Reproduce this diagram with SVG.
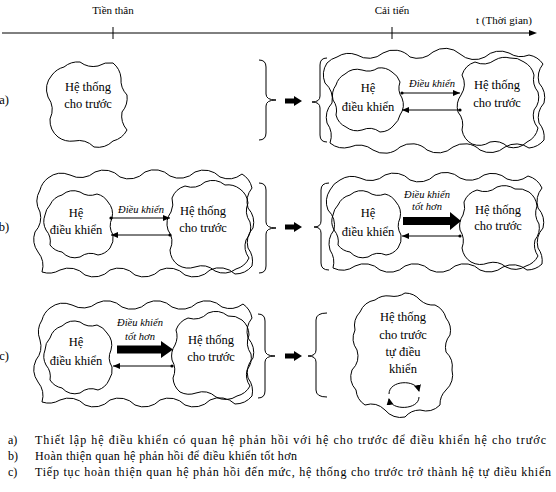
<svg xmlns="http://www.w3.org/2000/svg" width="556" height="492" viewBox="0 0 556 492">
<defs>
<style>
.blob{fill:none;stroke:#000;stroke-width:1}
.ln{fill:none;stroke:#000;stroke-width:1}
.t{font-family:"Liberation Serif","Times New Roman",serif;font-size:12.5px;fill:#000;text-anchor:middle}
.it{font-family:"Liberation Serif","Times New Roman",serif;font-size:10.5px;font-style:italic;fill:#000;text-anchor:middle}
.s{font-family:"Liberation Serif","Times New Roman",serif;font-size:11px;fill:#000;text-anchor:middle}
.lg{font-family:"Liberation Serif","Times New Roman",serif;font-size:12px;fill:#000}
.solid{fill:#000;stroke:none}
</style>
<marker id="ah" markerWidth="7" markerHeight="6" refX="7" refY="3" orient="auto" markerUnits="userSpaceOnUse"><path d="M0,0 L7,3 L0,6 Z" fill="#000"/></marker>
<marker id="dot" markerWidth="4" markerHeight="4" refX="2" refY="2" orient="auto" markerUnits="userSpaceOnUse"><circle cx="2" cy="2" r="1.6" fill="#000"/></marker>
<marker id="ahc" markerWidth="8" markerHeight="8" refX="6" refY="4" orient="auto" markerUnits="userSpaceOnUse"><path d="M0,0.5 L7,4 L0,7.5 Z" fill="#000"/></marker>
</defs>
<rect width="556" height="492" fill="#fff"/>

<g id="timeline">
<path class="ln" d="M2,33 L530,33"/>
<path class="solid" d="M529,30 L537,33 L529,36 Z"/>
<path class="ln" d="M113,27 L113,39 M392,27 L392,39"/>
<text class="s" x="113" y="14">Tiền thân</text>
<text class="s" x="392" y="14">Cải tiến</text>
<text class="s" x="504" y="24">t (Thời gian)</text>
</g>

<g id="row-labels">
<text class="t" x="4" y="104" text-anchor="start">a)</text>
<text class="t" x="4" y="231" text-anchor="start">b)</text>
<text class="t" x="4" y="360" text-anchor="start">c)</text>
</g>

<g id="a-given">
<path class="blob" d="M52,75 A22,22 0 0 1 64,67 A22,22 0 0 1 80,62 A22,22 0 0 0 98,66 A22,22 0 0 1 113,63 A22,22 0 0 1 121,78 A22,22 0 0 0 127,95 A22,22 0 0 1 122,112 A22,22 0 0 0 127,130 A22,22 0 0 1 113,141 A22,22 0 0 1 94,147 A22,22 0 0 0 74,141 A22,22 0 0 1 58,137 A22,22 0 0 1 50,119 A22,22 0 0 0 48,97 A22,22 0 0 1 52,75 Z"/>
<text class="t" x="88" y="91">Hệ thống</text>
<text class="t" x="88" y="108">cho trước</text>
</g>

<g id="a-outer">
<path class="blob" d="M327,63 A22,22 0 0 1 337,57 A22,22 0 0 1 357,55 A22,22 0 0 0 383,53 A22,22 0 0 1 410,57 A22,22 0 0 0 433,52 A22,22 0 0 1 460,54 A22,22 0 0 0 485,57 A22,22 0 0 1 509,53 A22,22 0 0 0 529,55 A22,22 0 0 1 543,64 A22,22 0 0 0 539,83 A22,22 0 0 1 544,103 A22,22 0 0 0 539,123 A22,22 0 0 1 544,140 A22,22 0 0 1 529,148 A22,22 0 0 0 505,147 A22,22 0 0 1 480,150 A22,22 0 0 0 453,147 A22,22 0 0 1 427,150 A22,22 0 0 0 400,147 A22,22 0 0 1 373,150 A22,22 0 0 0 350,147 A22,22 0 0 1 330,143 A22,22 0 0 0 327,123 A22,22 0 0 1 332,103 A22,22 0 0 0 325,83 A22,22 0 0 1 327,63 Z"/>
</g>
<g id="a-controller">
<path class="blob" d="M336,85 A18,18 0 0 1 345,74 A18,18 0 0 1 362,70 A18,18 0 0 0 378,68 A18,18 0 0 1 392,72 A18,18 0 0 1 400,82 A18,18 0 0 0 402,98 A18,18 0 0 1 400,115 A18,18 0 0 1 394,125 A18,18 0 0 1 380,132 A18,18 0 0 0 362,130 A18,18 0 0 1 346,127 A18,18 0 0 1 336,115 A18,18 0 0 0 333,100 A18,18 0 0 1 336,85 Z"/>
<text class="t" x="368" y="92">Hệ</text>
<text class="t" x="368" y="111">điều khiển</text>
</g>
<g id="a-system">
<path class="blob" d="M462,75 A20,20 0 0 1 475,62 A20,20 0 0 0 495,60 A20,20 0 0 1 510,58 A20,20 0 0 1 524,62 A20,20 0 0 1 534,75 A20,20 0 0 0 538,92 A20,20 0 0 1 534,110 A20,20 0 0 0 538,128 A20,20 0 0 1 527,142 A20,20 0 0 1 508,147 A20,20 0 0 0 490,142 A20,20 0 0 1 472,144 A20,20 0 0 1 462,130 A20,20 0 0 0 458,112 A20,20 0 0 1 461,95 A20,20 0 0 0 462,75 Z"/>
<text class="t" x="497" y="89">Hệ thống</text>
<text class="t" x="497" y="107">cho trước</text>
</g>

<g id="b-outer-left">
<path class="blob" d="M40,190 A22,22 0 0 1 48,178 A22,22 0 0 1 70,175 A22,22 0 0 0 95,172 A22,22 0 0 1 120,177 A22,22 0 0 0 145,172 A22,22 0 0 1 170,176 A22,22 0 0 0 195,172 A22,22 0 0 1 220,177 A22,22 0 0 0 242,174 A22,22 0 0 1 252,188 A22,22 0 0 0 248,208 A22,22 0 0 1 253,228 A22,22 0 0 0 248,248 A22,22 0 0 1 252,266 A22,22 0 0 1 235,274 A22,22 0 0 0 210,270 A22,22 0 0 1 185,275 A22,22 0 0 0 160,270 A22,22 0 0 1 135,275 A22,22 0 0 0 110,270 A22,22 0 0 1 85,275 A22,22 0 0 0 60,270 A22,22 0 0 1 42,272 A22,22 0 0 0 38,252 A22,22 0 0 1 35,232 A22,22 0 0 0 40,212 A22,22 0 0 1 40,190 Z"/>
</g>
<g id="b-controller-left">
<path class="blob" d="M50,205 A18,18 0 0 1 62,195 A18,18 0 0 1 80,192 A18,18 0 0 0 97,194 A18,18 0 0 1 108,202 A18,18 0 0 1 112,218 A18,18 0 0 0 113,235 A18,18 0 0 1 110,248 A18,18 0 0 1 98,255 A18,18 0 0 0 80,257 A18,18 0 0 1 62,252 A18,18 0 0 1 50,245 A18,18 0 0 0 46,230 A18,18 0 0 1 45,215 A18,18 0 0 1 50,205 Z"/>
<text class="t" x="76" y="217">Hệ</text>
<text class="t" x="76" y="234">điều khiển</text>
</g>
<g id="b-system-left">
<path class="blob" d="M172,198 A20,20 0 0 1 185,186 A20,20 0 0 0 205,182 A20,20 0 0 1 225,185 A20,20 0 0 1 240,189 A20,20 0 0 1 248,203 A20,20 0 0 0 250,222 A20,20 0 0 1 246,240 A20,20 0 0 0 249,258 A20,20 0 0 1 236,269 A20,20 0 0 1 215,271 A20,20 0 0 0 195,267 A20,20 0 0 1 178,265 A20,20 0 0 1 170,250 A20,20 0 0 0 168,230 A20,20 0 0 1 171,212 A20,20 0 0 0 172,198 Z"/>
<text class="t" x="203" y="215">Hệ thống</text>
<text class="t" x="203" y="232">cho trước</text>
</g>

<g id="b-outer-right">
<path class="blob" d="M330,190 A22,22 0 0 1 340,180 A22,22 0 0 1 360,178 A22,22 0 0 0 385,175 A22,22 0 0 1 410,180 A22,22 0 0 0 435,175 A22,22 0 0 1 460,178 A22,22 0 0 0 484,175 A22,22 0 0 1 507,179 A22,22 0 0 0 528,176 A22,22 0 0 1 542,188 A22,22 0 0 0 538,208 A22,22 0 0 1 543,228 A22,22 0 0 0 538,248 A22,22 0 0 1 542,264 A22,22 0 0 1 527,270 A22,22 0 0 0 503,267 A22,22 0 0 1 480,270 A22,22 0 0 0 455,266 A22,22 0 0 1 430,270 A22,22 0 0 0 405,266 A22,22 0 0 1 380,270 A22,22 0 0 0 355,266 A22,22 0 0 1 333,268 A22,22 0 0 0 330,250 A22,22 0 0 1 334,230 A22,22 0 0 0 328,210 A22,22 0 0 1 330,190 Z"/>
</g>
<g id="b-controller-right">
<path class="blob" d="M338,205 A18,18 0 0 1 350,195 A18,18 0 0 1 368,192 A18,18 0 0 0 385,194 A18,18 0 0 1 396,202 A18,18 0 0 1 400,218 A18,18 0 0 0 401,235 A18,18 0 0 1 398,248 A18,18 0 0 1 386,255 A18,18 0 0 0 368,257 A18,18 0 0 1 350,252 A18,18 0 0 1 338,245 A18,18 0 0 0 334,230 A18,18 0 0 1 333,215 A18,18 0 0 1 338,205 Z"/>
<text class="t" x="368" y="217">Hệ</text>
<text class="t" x="368" y="236">điều khiển</text>
</g>
<g id="b-system-right">
<path class="blob" d="M464,202 A20,20 0 0 1 477,190 A20,20 0 0 0 497,187 A20,20 0 0 1 515,189 A20,20 0 0 1 529,192 A20,20 0 0 1 537,206 A20,20 0 0 0 539,224 A20,20 0 0 1 535,240 A20,20 0 0 0 538,256 A20,20 0 0 1 526,266 A20,20 0 0 1 506,267 A20,20 0 0 0 488,263 A20,20 0 0 1 471,262 A20,20 0 0 1 462,248 A20,20 0 0 0 460,230 A20,20 0 0 1 463,215 A20,20 0 0 0 464,202 Z"/>
<text class="t" x="498" y="214">Hệ thống</text>
<text class="t" x="498" y="230">cho trước</text>
</g>

<g id="c-outer-left">
<path class="blob" d="M42,320 A22,22 0 0 1 50,308 A22,22 0 0 1 72,305 A22,22 0 0 0 97,303 A22,22 0 0 1 122,307 A22,22 0 0 0 147,303 A22,22 0 0 1 172,307 A22,22 0 0 0 197,303 A22,22 0 0 1 222,307 A22,22 0 0 0 243,304 A22,22 0 0 1 252,318 A22,22 0 0 0 248,338 A22,22 0 0 1 253,358 A22,22 0 0 0 248,378 A22,22 0 0 1 252,396 A22,22 0 0 1 235,404 A22,22 0 0 0 210,400 A22,22 0 0 1 185,405 A22,22 0 0 0 160,400 A22,22 0 0 1 135,405 A22,22 0 0 0 110,400 A22,22 0 0 1 85,405 A22,22 0 0 0 60,400 A22,22 0 0 1 42,402 A22,22 0 0 0 38,382 A22,22 0 0 1 36,360 A22,22 0 0 0 40,340 A22,22 0 0 1 42,320 Z"/>
</g>
<g id="c-controller">
<path class="blob" d="M50,338 A18,18 0 0 1 62,326 A18,18 0 0 1 80,322 A18,18 0 0 0 97,325 A18,18 0 0 1 107,333 A18,18 0 0 1 111,350 A18,18 0 0 0 112,367 A18,18 0 0 1 109,380 A18,18 0 0 1 98,390 A18,18 0 0 0 80,393 A18,18 0 0 1 62,388 A18,18 0 0 1 50,380 A18,18 0 0 0 46,365 A18,18 0 0 1 45,350 A18,18 0 0 1 50,338 Z"/>
<text class="t" x="76" y="346">Hệ</text>
<text class="t" x="76" y="365">điều khiển</text>
</g>
<g id="c-system">
<path class="blob" d="M176,330 A20,20 0 0 1 188,318 A20,20 0 0 0 208,313 A20,20 0 0 1 228,316 A20,20 0 0 1 242,320 A20,20 0 0 1 249,335 A20,20 0 0 0 251,354 A20,20 0 0 1 247,370 A20,20 0 0 0 250,386 A20,20 0 0 1 237,396 A20,20 0 0 1 216,397 A20,20 0 0 0 196,393 A20,20 0 0 1 180,392 A20,20 0 0 1 173,378 A20,20 0 0 0 172,360 A20,20 0 0 1 175,345 A20,20 0 0 0 176,330 Z"/>
<text class="t" x="211" y="344">Hệ thống</text>
<text class="t" x="211" y="361">cho trước</text>
</g>

<g id="c-self">
<path class="blob" d="M375,300 A20,20 0 0 1 390,296 A20,20 0 0 0 405,293 A20,20 0 0 1 420,300 A20,20 0 0 0 435,305 A20,20 0 0 1 446,318 A20,20 0 0 1 450,335 A20,20 0 0 0 446,352 A20,20 0 0 1 452,370 A20,20 0 0 1 446,390 A20,20 0 0 0 440,405 A20,20 0 0 1 420,410 A20,20 0 0 0 405,417 A20,20 0 0 1 385,410 A20,20 0 0 0 365,405 A20,20 0 0 1 356,390 A20,20 0 0 1 352,370 A20,20 0 0 0 357,350 A20,20 0 0 1 355,330 A20,20 0 0 1 360,312 A20,20 0 0 1 375,300 Z"/>
<text class="t" x="403" y="321">Hệ thống</text>
<text class="t" x="403" y="339">cho trước</text>
<text class="t" x="403" y="356">tự điều</text>
<text class="t" x="403" y="373">khiển</text>
<path class="ln" stroke-width="1.6" d="M389,394 C389,380 416,379 419,391" marker-end="url(#ahc)"/>
<path class="ln" stroke-width="1.6" d="M419,397 C419,410 391,411 389,399" marker-end="url(#ahc)"/>
</g>

<g id="connectors">
<path class="ln" d="M259,60 Q266,60 266,67 L266,94 Q266,100 276,100 Q266,100 266,106 L266,133 Q266,140 259,140"/>
<path class="ln" d="M259,183 Q266,183 266,190 L266,222 Q266,228 276,228 Q266,228 266,234 L266,266 Q266,273 259,273"/>
<path class="ln" d="M258,314 Q265,314 265,321 L265,350 Q265,356 275,356 Q265,356 265,362 L265,391 Q265,398 258,398"/>
<path class="ln" d="M327,58 Q320,58 320,65 L320,96 Q320,102 312,102 Q320,102 320,108 L320,135 Q320,142 327,142"/>
<path class="ln" d="M329,183 Q321,183 321,190 L321,221 Q321,227 314,227 Q321,227 321,233 L321,263 Q321,270 329,270"/>
<path class="ln" d="M327,313 Q316,313 316,320 L316,350 Q316,356 308,356 Q316,356 316,362 L316,390 Q316,397 327,397"/>
<path class="solid" d="M285,98.5 L294,98.5 L294,96 L302,101 L294,106 L294,103.5 L285,103.5 Z"/>
<path class="solid" d="M285,224.5 L294,224.5 L294,222 L302,227 L294,232 L294,229.5 L285,229.5 Z"/>
<path class="solid" d="M285,353.5 L294,353.5 L294,351 L302,356 L294,361 L294,358.5 L285,358.5 Z"/>
<path class="ln" d="M402,93 L460,93" marker-start="url(#dot)" marker-end="url(#ah)"/>
<path class="ln" d="M460,110 L402,110" marker-start="url(#dot)" marker-end="url(#ah)"/>
<text class="it" x="432" y="87">Điều khiển</text>
<path class="ln" d="M111,218 L170,218" marker-start="url(#dot)" marker-end="url(#ah)"/>
<path class="ln" d="M170,235 L111,235" marker-start="url(#dot)" marker-end="url(#ah)"/>
<text class="it" x="141" y="213">Điều khiển</text>
<path class="solid" d="M403,217 L450,217 L450,212 L461,221 L450,230 L450,225 L403,225 Z"/>
<path class="ln" d="M460,236 L402,236" marker-start="url(#dot)" marker-end="url(#ah)"/>
<text class="it" x="427" y="198">Điều khiển</text>
<text class="it" x="427" y="210">tốt hơn</text>
<path class="solid" d="M117,345.5 L161,345.5 L161,341 L173,349.5 L161,358 L161,353.5 L117,353.5 Z"/>
<path class="ln" d="M172,366 L113,366" marker-start="url(#dot)" marker-end="url(#ah)"/>
<text class="it" x="140" y="326">Điều khiển</text>
<text class="it" x="140" y="340">tốt hơn</text>
</g>

<g id="legend">
<text class="lg" x="8" y="444">a)</text>
<text class="lg" x="35" y="444" textLength="511" lengthAdjust="spacing">Thiết lập hệ điều khiển có quan hệ phản hồi với hệ cho trước để điều khiển hệ cho trước</text>
<text class="lg" x="8" y="460">b)</text>
<text class="lg" x="35" y="460" textLength="262" lengthAdjust="spacing">Hoàn thiện quan hệ phản hồi để điều khiển tốt hơn</text>
<text class="lg" x="8" y="476">c)</text>
<text class="lg" x="35" y="476" textLength="516" lengthAdjust="spacing">Tiếp tục hoàn thiện quan hệ phản hồi đến mức, hệ thống cho trước trở thành hệ tự điều khiển</text>
</g>
</svg>
